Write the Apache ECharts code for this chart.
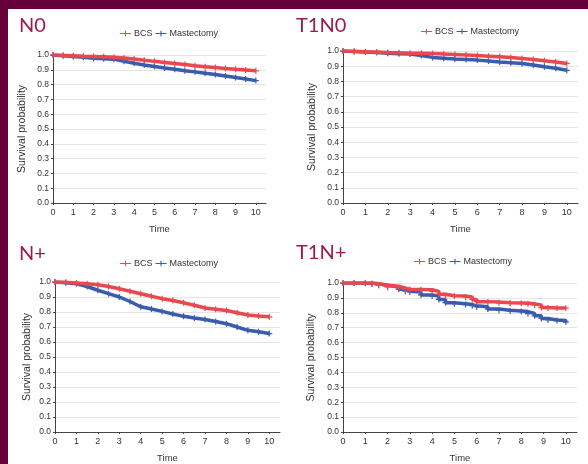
<!DOCTYPE html>
<html>
<head>
<meta charset="utf-8">
<script src="https://cdn.jsdelivr.net/npm/echarts@6/dist/echarts.min.js"></script>
<style>
  html, body { margin: 0; padding: 0; background: #65003a; }
  #main { width: 588px; height: 464px; }
</style>
</head>
<body>
<div id="main"></div>
<script>
// panel titles
const panelNames = ['N0', 'T1N0', 'N+', 'T1N+']
const xTicks = [0, 1, 2, 3, 4, 5, 6, 7, 8, 9, 10]

// N0
const n0Time = [0, 0.5, 1, 1.5, 2, 2.5, 3, 3.5, 4, 4.5, 5, 5.5, 6, 6.5, 7, 7.5, 8, 8.5, 9, 9.5, 10]
const n0Bcs = [1, 0.998, 0.995, 0.992, 0.99, 0.988, 0.985, 0.98, 0.973, 0.965, 0.957, 0.95, 0.943, 0.936, 0.928, 0.921, 0.915, 0.909, 0.903, 0.898, 0.893]
const n0Mast = [1, 0.995, 0.99, 0.985, 0.978, 0.975, 0.972, 0.958, 0.944, 0.932, 0.922, 0.912, 0.903, 0.894, 0.886, 0.877, 0.868, 0.858, 0.848, 0.838, 0.827]

// T1N0
const t1n0Time = [0, 0.5, 1, 1.5, 2, 2.5, 3, 3.5, 4, 4.5, 5, 5.5, 6, 6.5, 7, 7.5, 8, 8.5, 9, 9.5, 10]
const t1n0Bcs = [1, 0.998, 0.995, 0.993, 0.99, 0.988, 0.986, 0.985, 0.983, 0.98, 0.977, 0.974, 0.97, 0.966, 0.962, 0.957, 0.951, 0.944, 0.936, 0.928, 0.918]
const t1n0Mast = [1, 0.997, 0.993, 0.99, 0.985, 0.982, 0.98, 0.97, 0.958, 0.953, 0.948, 0.944, 0.94, 0.934, 0.928, 0.923, 0.918, 0.908, 0.896, 0.886, 0.873]

// N+
const npTime = [0, 0.5, 1, 1.5, 2, 2.5, 3, 3.5, 4, 4.5, 5, 5.5, 6, 6.5, 7, 7.5, 8, 8.5, 9, 9.5, 10]
const npBcs = [1, 0.998, 0.993, 0.988, 0.982, 0.97, 0.955, 0.938, 0.922, 0.905, 0.889, 0.877, 0.862, 0.845, 0.827, 0.818, 0.81, 0.795, 0.78, 0.773, 0.768]
const npMast = [1, 0.995, 0.988, 0.97, 0.945, 0.922, 0.9, 0.87, 0.835, 0.82, 0.804, 0.787, 0.771, 0.76, 0.75, 0.737, 0.722, 0.7, 0.678, 0.668, 0.656]

// T1N+
const t1npTime = [0, 0.5, 1, 1.3, 1.6, 2, 2.5, 2.8, 3, 3.5, 4, 4.3, 4.6, 5, 5.5, 5.8, 6, 6.5, 7, 7.5, 8, 8.3, 8.6, 8.9, 9.2, 9.6, 10]
const t1npBcs = [1, 1, 1, 0.995, 0.985, 0.978, 0.965, 0.958, 0.957, 0.955, 0.944, 0.925, 0.915, 0.913, 0.906, 0.89, 0.875, 0.872, 0.867, 0.866, 0.864, 0.86, 0.852, 0.835, 0.832, 0.832, 0.831]
const t1npMast = [1, 1, 0.998, 0.995, 0.985, 0.973, 0.958, 0.945, 0.94, 0.92, 0.912, 0.89, 0.868, 0.861, 0.855, 0.848, 0.84, 0.825, 0.817, 0.812, 0.808, 0.795, 0.78, 0.762, 0.752, 0.748, 0.738]

const panelData = [
  [n0Time, n0Bcs, n0Mast],
  [t1n0Time, t1n0Bcs, t1n0Mast],
  [npTime, npBcs, npMast],
  [t1npTime, t1npBcs, t1npMast]
]
// the big cohorts look smooth, the small T1N+ one keeps visible steps
const panelStep = [false, false, false, 'end']

const colors = ['#e8494f', '#3a5cae']
const crossPath = 'path://M4,0h2v10H4z M0,4h10v2H0z'
const legendIcon = 'path://M0,4h20v2H0z M9,0h2v10H9z'

// grid boxes [left, top, width, height]
const boxes = [
  [53, 55, 213, 148],
  [343, 51, 235, 152],
  [55, 282, 225, 150],
  [343, 283, 234, 149]
]
const titlePos = [[19, 16], [296, 16], [19, 244], [296, 243]]
const legendPos = [[120, 29], [421, 27], [120, 259], [414, 257]]
const yNamePos = [22, 312, 27, 311]

const pair = (t, v) => t.map((x, i) => [x, v[i]])

var myChart = echarts.init(document.getElementById('main'))

var option = {
  animation: false,
  backgroundColor: '#65003a',
  textStyle: { fontFamily: 'Liberation Sans, Arial, sans-serif' },
  graphic: [
    { type: 'rect', shape: { x: 8, y: 9, width: 580, height: 455 }, style: { fill: '#ffffff' }, z: -10 }
  ],
  title: panelNames.map((n, i) => ({
    text: n,
    left: titlePos[i][0],
    top: titlePos[i][1],
    padding: 0,
    textStyle: { fontFamily: 'Lato', fontSize: 20, fontWeight: 'normal', color: '#9c1b4d' }
  })),
  legend: legendPos.map(p => ({
    left: p[0],
    top: p[1],
    padding: 0,
    itemWidth: 11,
    itemHeight: 7,
    itemGap: 3,
    icon: legendIcon,
    data: [
      { name: 'BCS', itemStyle: { color: colors[0] } },
      { name: 'Mastectomy', itemStyle: { color: colors[1] } }
    ],
    textStyle: { fontSize: 9, color: '#333', padding: [0, 0, 0, -2] }
  })),
  grid: boxes.map(b => ({ left: b[0], top: b[1], width: b[2], height: b[3] })),
  xAxis: boxes.map((b, i) => ({
    type: 'value',
    gridIndex: i,
    min: 0,
    max: 10.5,
    interval: 1,
    name: 'Time',
    nameLocation: 'middle',
    nameGap: 21,
    nameTextStyle: { fontSize: 9.5, color: '#333' },
    axisLine: { show: true, lineStyle: { color: '#444', width: 1 } },
    axisTick: { show: true, length: 2, customValues: xTicks, lineStyle: { color: '#444' } },
    axisLabel: { fontSize: 9, color: '#333', margin: 5, customValues: xTicks },
    splitLine: { show: false }
  })),
  yAxis: boxes.map((b, i) => ({
    type: 'value',
    gridIndex: i,
    min: 0,
    max: 1,
    interval: 0.1,
    name: 'Survival probability',
    nameLocation: 'middle',
    nameGap: b[0] - yNamePos[i] - 6,
    nameTextStyle: { fontSize: 10.5, color: '#333' },
    axisLine: { show: true, lineStyle: { color: '#444', width: 1 } },
    axisTick: { show: true, length: 2, lineStyle: { color: '#444' } },
    axisLabel: { fontSize: 8.5, color: '#333', margin: 4, formatter: v => v.toFixed(1) },
    splitLine: { show: true, lineStyle: { color: '#e4e4e4', width: 1 } }
  })),
  series: []
}

panelData.forEach((d, i) => {
  ;['BCS', 'Mastectomy'].forEach((name, k) => {
    option.series.push({
      name: name,
      type: 'line',
      xAxisIndex: i,
      yAxisIndex: i,
      step: panelStep[i],
      data: pair(d[0], d[k + 1]),
      color: colors[k],
      symbol: crossPath,
      symbolSize: 6,
      showAllSymbol: true,
      lineStyle: { width: 3.5, color: colors[k] },
      itemStyle: { color: colors[k] },
      z: k === 0 ? 3 : 2
    })
  })
})

myChart.setOption(option)
</script>
</body>
</html>
